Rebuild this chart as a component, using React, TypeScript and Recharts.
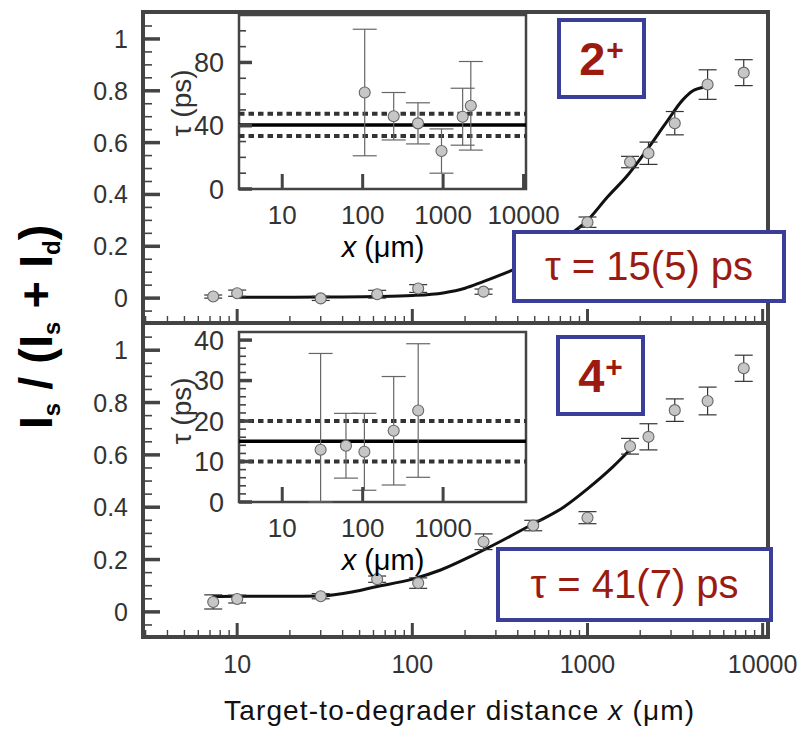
import React from "react";
import { ComposedChart, Scatter, Line, XAxis, YAxis, ErrorBar, ReferenceLine, ReferenceArea } from "recharts";

// 2+ panel: target-to-degrader distance (um), Is/(Is+Id), error
const dist2 = [7.3, 10, 30, 63, 108, 255, 1000, 1750, 2230, 3150, 4850, 7800];
const ratio2 = [0.006, 0.019, -0.001, 0.015, 0.037, 0.025, 0.293, 0.525, 0.559, 0.675, 0.824, 0.87];
const err2 = [0.006, 0.012, 0.008, 0.015, 0.015, 0.01, 0.02, 0.022, 0.043, 0.045, 0.057, 0.05];
const fitX2 = [10, 30, 60, 100, 150, 200, 250, 350, 500, 700, 1000, 1300, 1700, 2200, 2800, 3500, 4000, 4700];
const fitY2 = [0.003, 0.004, 0.006, 0.01, 0.02, 0.038, 0.062, 0.1, 0.15, 0.22, 0.3, 0.39, 0.475, 0.575, 0.675, 0.765, 0.8, 0.815];

// 4+ panel
const dist4 = [7.3, 10, 30, 63, 108, 255, 490, 1000, 1750, 2230, 3150, 4850, 7800];
const ratio4 = [0.038, 0.049, 0.06, 0.125, 0.11, 0.268, 0.33, 0.36, 0.633, 0.669, 0.771, 0.806, 0.931];
const err4 = [0.027, 0.015, 0.01, 0.012, 0.02, 0.03, 0.02, 0.023, 0.03, 0.05, 0.043, 0.053, 0.05];
const fitX4 = [7.3, 10, 20, 30, 46, 60, 100, 145, 220, 320, 480, 730, 1000, 1400, 1800];
const fitY4 = [0.059, 0.06, 0.06, 0.061, 0.077, 0.094, 0.125, 0.16, 0.215, 0.27, 0.333, 0.4, 0.47, 0.555, 0.628];

// insets: lifetime tau (ps) per distance
const tauX2 = [106, 243, 487, 955, 1750, 2210];
const tau2 = [61, 46, 41.5, 24, 45.7, 52.6];
const tauErr2 = [40, 15, 13, 14, 18, 28];
const tauLines2 = { mean: 40.5, lo: 33.5, hi: 47.5 };

const tauX4 = [30, 62, 105, 243, 490];
const tau4 = [12.9, 13.9, 12.4, 17.6, 22.6];
const tauErr4 = [[12.9, 23.8], [8, 8], [9.5, 9.5], [13.4, 13.4], [16.5, 16.5]];
const tauLines4 = { mean: 15, lo: 10, hi: 20 };

// ticks
const mainXTicks = [3, 4, 5, 6, 7, 8, 9, 10, 20, 30, 40, 50, 60, 70, 80, 90, 100, 200, 300, 400, 500, 600, 700, 800, 900,
  1000, 2000, 3000, 4000, 5000, 6000, 7000, 8000, 9000, 10000];
const mainXLabels = [10, 100, 1000, 10000];
const mainYTicks = [-0.05, 0, 0.05, 0.1, 0.15, 0.2, 0.25, 0.3, 0.35, 0.4, 0.45, 0.5, 0.55, 0.6, 0.65, 0.7, 0.75, 0.8, 0.85, 0.9, 0.95, 1, 1.05];
const mainYLabels = [0, 0.2, 0.4, 0.6, 0.8, 1];
const insetXTicks2 = [10, 100, 1000, 10000];
const insetXTicks4 = [10, 100, 1000];
const insetYTicks2 = [0, 10, 20, 30, 40, 50, 60, 70, 80, 90, 100];
const insetYLabels2 = [0, 40, 80];
const insetYTicks4 = [0, 2, 4, 6, 8, 10, 12, 14, 16, 18, 20, 22, 24, 26, 28, 30, 32, 34, 36, 38, 40];
const insetYLabels4 = [0, 10, 20, 30, 40];

const X_DOMAIN = [2.9, 10730];
const Y_DOMAIN = [-0.096, 1.104];
const FONT = "'Liberation Sans', Arial, Helvetica, sans-serif";
const AXIS = "#444";
const TXT = "#333";
const RED = "#9c1b10";
const BLUE = "#3b3e98";

const pts = (xs: number[], ys: number[], es: any[]) => xs.map((x, i) => ({ x, y: ys[i], e: es[i] }));
const curve = (xs: number[], ys: number[]) => xs.map((x, i) => ({ x, y: ys[i] }));

const Dot = (p: any) => <circle cx={p.cx} cy={p.cy} r={5.5} fill="#c6c6c6" stroke="#666" strokeWidth={1.1} />;

const has = (arr: number[], v: number) => arr.some((a) => Math.abs(a - v) < 1e-6);

const xTick = (majors: number[], labels: number[], majLen: number, minLen: number, dy: number, fs: number) => (p: any) => {
  const v = p.payload.value;
  const major = has(majors, v);
  return (
    <g>
      <line x1={p.x} x2={p.x} y1={p.y} y2={p.y - (major ? majLen : minLen)} stroke={AXIS} strokeWidth={major ? 3 : 1.4} />
      {has(labels, v) && (
        <text x={p.x} y={p.y + dy} textAnchor="middle" fontSize={fs} fill={TXT} fontFamily={FONT}>{v}</text>
      )}
    </g>
  );
};

const yTick = (labels: number[], majLen: number, minLen: number, fs: number) => (p: any) => {
  const v = p.payload.value;
  const major = has(labels, v);
  return (
    <g>
      <line x1={p.x} x2={p.x + (major ? majLen : minLen)} y1={p.y} y2={p.y} stroke={AXIS} strokeWidth={major ? 3.5 : 1.6} />
      {major && (
        <text x={p.x - 15} y={p.y} dy="0.36em" textAnchor="end" fontSize={fs} fill={TXT} fontFamily={FONT}>
          {String(Math.round(v * 10) / 10)}
        </text>
      )}
    </g>
  );
};

function MainPanel({ points, fit, height, margin, labels }: any) {
  return (
    <ComposedChart width={800} height={height} margin={margin}>
      <XAxis dataKey="x" type="number" scale="log" domain={X_DOMAIN} allowDataOverflow ticks={mainXTicks} interval={0}
        height={1} tickSize={0} tickMargin={0} tickLine={false} axisLine={false}
        tick={xTick(mainXLabels, labels ? mainXLabels : [], 14, 7, 36, 25)} />
      <YAxis dataKey="y" type="number" domain={Y_DOMAIN} allowDataOverflow ticks={mainYTicks} interval={0}
        width={143} tickSize={0} tickMargin={0} tickLine={false} axisLine={false} tick={yTick(mainYLabels, 17, 9, 25)} />
      <Line data={fit} dataKey="y" type="monotone" stroke="#111" strokeWidth={3} dot={false} isAnimationActive={false} />
      <Scatter data={points} dataKey="y" shape={Dot} isAnimationActive={false}>
        <ErrorBar dataKey="e" direction="y" width={9} stroke="#333" strokeWidth={1.2} />
      </Scatter>
      <ReferenceArea x1={X_DOMAIN[0]} x2={X_DOMAIN[1]} y1={Y_DOMAIN[0]} y2={Y_DOMAIN[1]} fill="none" fillOpacity={0}
        stroke={AXIS} strokeWidth={4} ifOverflow="visible" />
    </ComposedChart>
  );
}

function Inset({ points, lines, height, margin, yDomain, yTicks, yLabels, xTicks }: any) {
  return (
    <ComposedChart width={800} height={height} margin={margin}>
      <XAxis dataKey="x" type="number" scale="log" domain={X_DOMAIN} allowDataOverflow ticks={xTicks} interval={0}
        height={1} tickSize={0} tickMargin={0} tickLine={false} axisLine={false}
        tick={xTick(xTicks, xTicks, 15, 15, 35, 26)} />
      <YAxis dataKey="y" type="number" domain={yDomain} allowDataOverflow ticks={yTicks} interval={0}
        width={239} tickSize={0} tickMargin={0} tickLine={false} axisLine={false} tick={yTick(yLabels, 13, 7, 27)} />
      <ReferenceLine y={lines.hi} stroke="#333" strokeWidth={4} strokeDasharray="5.5 4" />
      <ReferenceLine y={lines.lo} stroke="#333" strokeWidth={4} strokeDasharray="5.5 4" />
      <ReferenceLine y={lines.mean} stroke="#000" strokeWidth={3.5} />
      <Scatter data={points} dataKey="y" shape={Dot} isAnimationActive={false}>
        <ErrorBar dataKey="e" direction="y" width={12} stroke="#666" strokeWidth={1.2} />
      </Scatter>
      <ReferenceArea x1={X_DOMAIN[0]} x2={X_DOMAIN[1]} y1={yDomain[0]} y2={yDomain[1]} fill="none" fillOpacity={0}
        stroke={AXIS} strokeWidth={2.5} ifOverflow="visible" />
    </ComposedChart>
  );
}

const abs = (left: number, top: number, extra: any = {}) => ({ position: "absolute" as const, left, top, ...extra });

function StateBox({ left, top, digit }: any) {
  return (
    <div style={abs(left, top, { width: 89, height: 81, boxSizing: "border-box", border: `4.5px solid ${BLUE}`, background: "#fff",
      display: "flex", alignItems: "center", justifyContent: "center", color: RED, fontFamily: FONT, fontWeight: "bold" })}>
      <span style={{ fontSize: 47, lineHeight: 1 }}>{digit}</span>
      <span style={{ fontSize: 30, lineHeight: 1, position: "relative", top: -9, marginLeft: 1 }}>+</span>
    </div>
  );
}

function TauBox({ left, top, width, height, text }: any) {
  return (
    <div style={abs(left, top, { width, height, boxSizing: "border-box", border: `4.5px solid ${BLUE}`, background: "#fff",
      display: "flex", alignItems: "center", justifyContent: "center", color: RED, fontFamily: FONT, fontSize: 40, whiteSpace: "nowrap" })}>
      {text}
    </div>
  );
}

export default function App() {
  return (
    <div style={{ position: "absolute", left: 0, top: 0, width: 800, height: 731, background: "#fff", overflow: "hidden" }}>
      <div style={abs(0, 0)}>
        <MainPanel points={pts(dist2, ratio2, err2)} fit={curve(fitX2, fitY2)} height={324}
          margin={{ top: 12, right: 32, bottom: 0, left: 0 }} labels={false} />
      </div>
      <div style={abs(0, 0)}>
        <MainPanel points={pts(dist4, ratio4, err4)} fit={curve(fitX4, fitY4)} height={731}
          margin={{ top: 323, right: 32, bottom: 93, left: 0 }} labels={true} />
      </div>

      <div style={abs(239, 15, { width: 287, height: 174, background: "#fff" })} />
      <div style={abs(0, 0)}>
        <Inset points={pts(tauX2, tau2, tauErr2)} lines={tauLines2} height={300}
          margin={{ top: 15, right: 274, bottom: 110, left: 0 }} yDomain={[0, 110]}
          yTicks={insetYTicks2} yLabels={insetYLabels2} xTicks={insetXTicks2} />
      </div>
      <div style={abs(239, 332, { width: 287, height: 170, background: "#fff" })} />
      <div style={abs(0, 0)}>
        <Inset points={pts(tauX4, tau4, tauErr4)} lines={tauLines4} height={620}
          margin={{ top: 332, right: 274, bottom: 117, left: 0 }} yDomain={[0, 42]}
          yTicks={insetYTicks4} yLabels={insetYLabels4} xTicks={insetXTicks4} />
      </div>

      <svg width={800} height={731} style={abs(0, 0, { pointerEvents: "none" })} fontFamily={FONT}>
        <text x={459} y={720} textAnchor="middle" fontSize={28} fill="#111" textLength={470} lengthAdjust="spacing">
          Target-to-degrader distance <tspan fontStyle="italic">x</tspan> (μm)
        </text>
        <text transform="translate(52,327) rotate(-90)" textAnchor="middle" fontSize={47} fontWeight="bold" fill="#000">
          I<tspan fontSize={24} dy={8}>s</tspan><tspan dy={-8}> / (I</tspan><tspan fontSize={24} dy={8}>s</tspan>
          <tspan dy={-8}> + I</tspan><tspan fontSize={24} dy={8}>d</tspan><tspan dy={-8}>)</tspan>
        </text>
        <text x={383} y={257} textAnchor="middle" fontSize={29} fill="#000">
          <tspan fontStyle="italic">x</tspan> (μm)
        </text>
        <text x={383} y={570} textAnchor="middle" fontSize={29} fill="#000">
          <tspan fontStyle="italic">x</tspan> (μm)
        </text>
        <text transform="translate(191,103) rotate(-90)" textAnchor="middle" fontSize={28} fill={TXT}>τ (ps)</text>
        <text transform="translate(191,411) rotate(-90)" textAnchor="middle" fontSize={28} fill={TXT}>τ (ps)</text>
      </svg>

      <StateBox left={557} top={18} digit="2" />
      <StateBox left={556} top={335} digit="4" />
      <TauBox left={512} top={230} width={274} height={73} text="τ = 15(5) ps" />
      <TauBox left={496} top={547} width={277} height={75} text="τ = 41(7) ps" />
    </div>
  );
}
